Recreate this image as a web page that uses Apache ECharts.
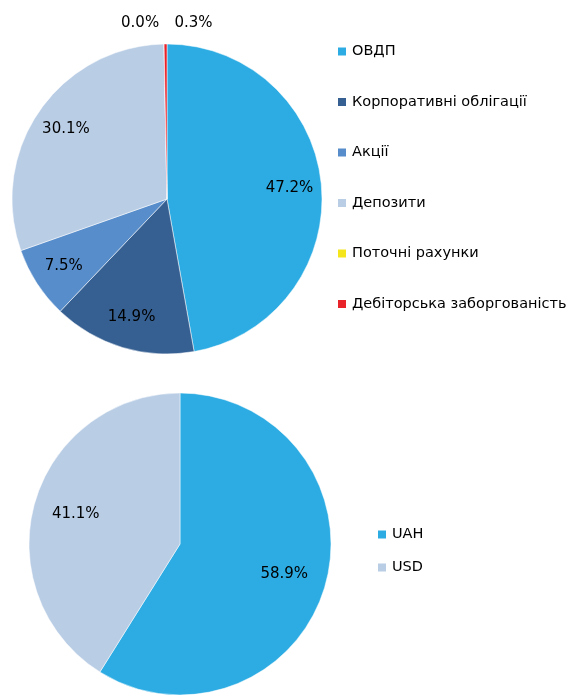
<!DOCTYPE html>
<html>
<head>
<meta charset="utf-8">
<script src="https://cdn.jsdelivr.net/npm/echarts@6/dist/echarts.min.js"></script>
<style>
  html, body { margin: 0; padding: 0; background: #fff; }
  #chart { width: 584px; height: 696px; }
</style>
</head>
<body>
<div id="chart"></div>
<script>
// структура портфеля, %
var assetNames = ['ОВДП', 'Корпоративні облігації', 'Акції', 'Депозити', 'Поточні рахунки', 'Дебіторська заборгованість']
var assetValues = [47.2, 14.9, 7.5, 30.1, 0.0, 0.3]
var assetColors = ['#2cace3', '#376092', '#578dcb', '#b9cde5', '#f5e51c', '#e8232a']

// валютна структура, %
var currencyNames = ['UAH', 'USD']
var currencyValues = [58.9, 41.1]
var currencyColors = ['#2cace3', '#b9cde5']

var font = 'DejaVu Sans'

function toData(names, values, colors) {
  return names.map(function (n, i) {
    return { name: n, value: values[i], itemStyle: { color: colors[i] } }
  })
}

var assetData = toData(assetNames, assetValues, assetColors)
var currencyData = toData(currencyNames, currencyValues, currencyColors)

// дрібні частки підписуємо над діаграмою
var assetLabelData = assetData.map(function (d, i) {
  var item = { name: d.name, value: d.value, itemStyle: { color: 'rgba(0,0,0,0)' } }
  if (d.value < 1) {
    item.label = { position: 'outside' }
    item.labelLine = { show: false, length: 0, length2: 0 }
  }
  return item
})
var currencyLabelData = currencyData.map(function (d) {
  return { name: d.name, value: d.value, itemStyle: { color: 'rgba(0,0,0,0)' } }
})

var pctLabel = {
  show: true,
  position: 'inside',
  color: '#000',
  fontFamily: font,
  fontSize: 15,
  formatter: function (p) { return p.value.toFixed(1) + '%' }
}

var myChart = echarts.init(document.getElementById('chart'), null, { renderer: 'canvas' })
myChart.setOption({
  animation: false,
  legend: [
    {
      orient: 'vertical',
      left: 331,
      top: 39,
      itemWidth: 10,
      itemHeight: 10,
      itemGap: 35.5,
      icon: 'rect',
      data: assetNames,
      textStyle: { fontFamily: font, fontSize: 14.5, color: '#000' },
      selectedMode: false
    },
    {
      orient: 'vertical',
      left: 371,
      top: 522,
      itemWidth: 10,
      itemHeight: 10,
      itemGap: 18,
      icon: 'rect',
      data: currencyNames,
      textStyle: { fontFamily: font, fontSize: 14.5, color: '#000' },
      selectedMode: false
    }
  ],
  series: [
    {
      type: 'pie',
      center: [167, 199],
      radius: [0, 155],
      startAngle: 90,
      label: { show: false },
      labelLine: { show: false },
      itemStyle: { borderColor: '#fff', borderWidth: 0.5 },
      emphasis: { disabled: true },
      data: assetData
    },
    {
      type: 'pie',
      center: [180, 544],
      radius: [0, 151],
      startAngle: 90,
      label: { show: false },
      labelLine: { show: false },
      itemStyle: { borderColor: '#fff', borderWidth: 0.5 },
      emphasis: { disabled: true },
      data: currencyData
    },
    // підписи
    {
      type: 'pie',
      center: [167, 199],
      radius: [85, 155],
      startAngle: 90,
      silent: true,
      avoidLabelOverlap: false,
      label: pctLabel,
      labelLine: { show: false },
      emphasis: { disabled: true },
      labelLayout: function (p) {
        if (p.dataIndex === 4) return { dx: -19, dy: -21, align: 'center' }
        if (p.dataIndex === 5) return { dx: 33, dy: -21, align: 'center' }
        return {}
      },
      data: assetLabelData
    },
    {
      type: 'pie',
      center: [180, 544],
      radius: [60, 151],
      startAngle: 90,
      silent: true,
      label: pctLabel,
      labelLine: { show: false },
      emphasis: { disabled: true },
      data: currencyLabelData
    }
  ]
})
</script>
</body>
</html>
